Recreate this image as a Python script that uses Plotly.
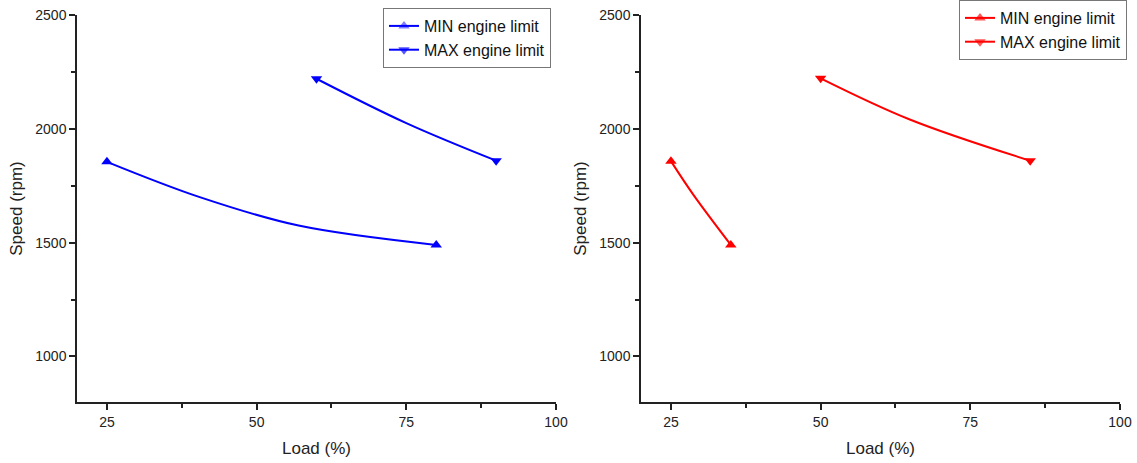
import plotly.graph_objects as go

# Left panel (blue)
left_min_load = [25, 40.5, 57, 80]
left_min_speed = [1855, 1700, 1575, 1490]
left_max_load = [60, 75, 90]
left_max_speed = [2220, 2025, 1860]

# Right panel (red)
right_min_load = [25, 28.7, 35]
right_min_speed = [1858, 1712, 1490]
right_max_load = [50, 65, 85]
right_max_speed = [2222, 2040, 1860]

x_ticks = [25, 50, 75, 100]
y_ticks = [1000, 1500, 2000, 2500]
names = ["MIN engine limit", "MAX engine limit"]

fig = go.Figure()

def add(x, y, color, symbol, name, xa, ya, legend):
    n = len(x)
    op = [1] + [0] * (n - 2) + [1]
    fig.add_trace(go.Scatter(
        x=x, y=y, mode="lines+markers", name=name,
        line=dict(color=color, width=2, shape="spline", smoothing=1),
        marker=dict(symbol=symbol, size=10, color=color, opacity=op),
        xaxis=xa, yaxis=ya, legend=legend))

add(left_min_load, left_min_speed, "#0000FF", "triangle-up", names[0], "x", "y", "legend")
add(left_max_load, left_max_speed, "#0000FF", "triangle-down", names[1], "x", "y", "legend")
add(right_min_load, right_min_speed, "#FF0000", "triangle-up", names[0], "x2", "y2", "legend2")
add(right_max_load, right_max_speed, "#FF0000", "triangle-down", names[1], "x2", "y2", "legend2")

W, H = 1137, 463
font = dict(family="Liberation Sans, Arial, sans-serif", size=14, color="#222")

def xaxis(d, anchor):
    return dict(domain=d, anchor=anchor, range=[20, 100], tickvals=x_ticks, automargin=False,
                showgrid=False, zeroline=False, showline=True, linecolor="#222", linewidth=1.5,
                ticks="outside", ticklen=6, tickcolor="#222", tickwidth=1.5,
                minor=dict(tickmode="linear", tick0=0, dtick=12.5, ticks="outside", ticklen=4,
                           tickcolor="#222", tickwidth=1.5, showgrid=False),
                title=dict(text="Load (%)", font=dict(size=17), standoff=14),
                tickfont=dict(size=14))

def yaxis(d, anchor):
    return dict(domain=d, anchor=anchor, range=[800, 2500], tickvals=y_ticks, automargin=False,
                showgrid=False, zeroline=False, showline=True, linecolor="#222", linewidth=1.5,
                ticks="outside", ticklen=6, tickcolor="#222", tickwidth=1.5,
                minor=dict(tickmode="linear", tick0=0, dtick=250, ticks="outside", ticklen=4,
                           tickcolor="#222", tickwidth=1.5, showgrid=False),
                title=dict(text="Speed (rpm)", font=dict(size=17), standoff=8),
                tickfont=dict(size=14))

ydom = [1 - 402 / H, 1 - 15 / H]
fig.update_layout(
    template="none",
    width=W, height=H, margin=dict(l=0, r=0, t=0, b=0, autoexpand=False),
    paper_bgcolor="white", plot_bgcolor="white", font=font,
    xaxis=xaxis([77 / W, 556 / W], "y"),
    yaxis=yaxis(ydom, "x"),
    xaxis2=xaxis([641 / W, 1120 / W], "y2"),
    yaxis2=yaxis(ydom, "x2"),
    legend=dict(x=551 / W, y=1 - 38 / H, xanchor="right", yanchor="middle",
                bordercolor="#777", borderwidth=1, bgcolor="white",
                font=dict(size=16, color="#111"), tracegroupgap=0, itemwidth=30),
    legend2=dict(x=1127 / W, y=1 - 30 / H, xanchor="right", yanchor="middle",
                 bordercolor="#777", borderwidth=1, bgcolor="white",
                 font=dict(size=16, color="#111"), tracegroupgap=0, itemwidth=30),
    showlegend=True,
)

fig.write_html("out.html")
